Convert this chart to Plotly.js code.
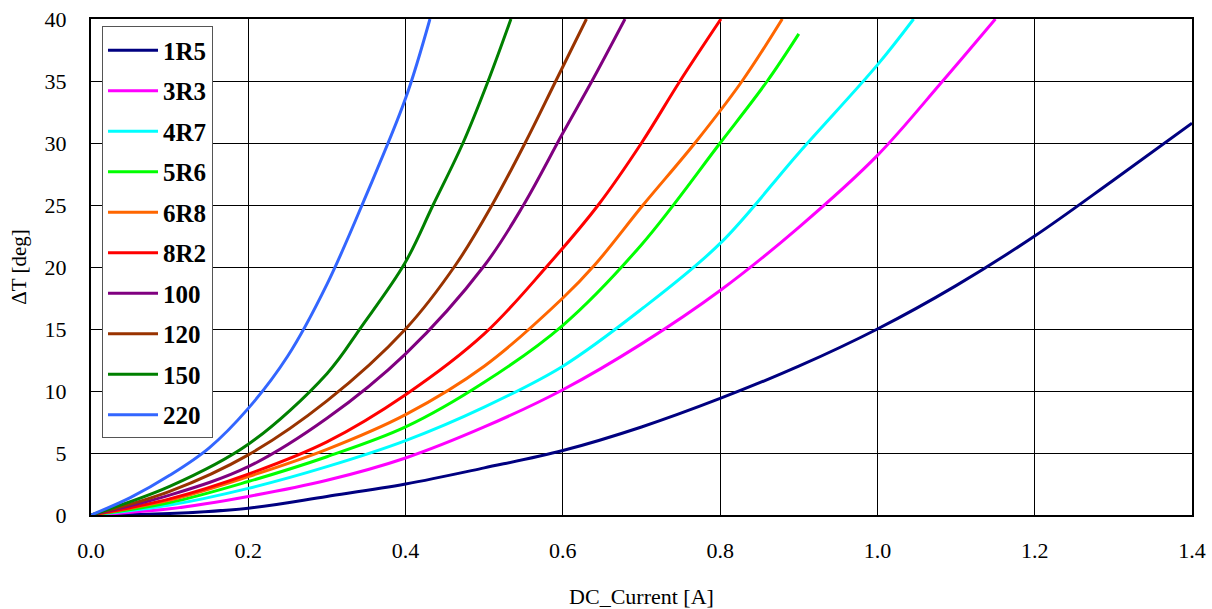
<!DOCTYPE html>
<html>
<head>
<meta charset="utf-8">
<script src="https://cdn.plot.ly/plotly-3.0.1.min.js"></script>
<style>html,body{margin:0;padding:0;background:#fff;}#chart{width:1212px;height:609px;}</style>
</head>
<body>
<div id="chart"></div>
<script>
const seriesNames = ["1R5","3R3","4R7","5R6","6R8","8R2","100","120","150","220"];
const seriesColors = ["#000080","#FF00FF","#00FFFF","#00FF00","#FF6600","#FF0000","#800080","#993300","#008000","#3366FF"];

const x_1R5 = [0,0.1,0.2,0.3,0.4,0.5,0.6,0.7,0.8,0.9,1.0,1.1,1.2,1.3,1.4];
const y_1R5 = [0,0.12,0.55,1.5,2.5,3.8,5.2,7.1,9.4,12.0,15.0,18.5,22.5,27.0,31.6];

const x_3R3 = [0,0.1,0.2,0.3,0.4,0.5,0.6,0.7,0.8,0.9,1.0,1.083,1.15];
const y_3R3 = [0,0.5,1.5,2.8,4.6,7.1,10.1,13.8,18.1,23.2,29.0,35,40];

const x_4R7 = [0,0.1,0.2,0.3,0.4,0.5,0.6,0.7,0.8,0.9,1.0,1.046];
const y_4R7 = [0,0.8,2.15,3.9,6.0,8.7,12.0,16.6,21.9,29.2,36.3,40];

const x_5R6 = [0,0.1,0.2,0.3,0.4,0.5,0.6,0.7,0.8,0.86,0.9];
const y_5R6 = [0,1.0,2.7,4.7,7.1,10.7,15.3,21.8,30,35,38.8];

const x_6R8 = [0,0.1,0.2,0.3,0.4,0.5,0.6,0.641,0.702,0.768,0.828,0.879];
const y_6R8 = [0,1.2,3.1,5.3,8.1,12.0,17.5,20.2,25,30,35,40];

const x_8R2 = [0,0.1,0.2,0.3,0.4,0.5,0.579,0.645,0.7,0.749,0.801];
const y_8R2 = [0,1.3,3.3,5.9,9.7,14.6,20,25,30,35,40];

const x_100 = [0,0.1,0.2,0.3,0.4,0.5,0.55,0.6,0.637,0.679];
const y_100 = [0,1.6,3.9,7.8,13.0,20.1,25,30.8,35,40];

const x_120 = [0,0.1,0.2,0.3,0.4,0.464,0.51,0.552,0.591,0.630];
const y_120 = [0,1.9,4.85,9.2,15.0,20.2,25,30,35,40];

const x_150 = [0,0.1,0.2,0.3,0.344,0.399,0.435,0.473,0.505,0.534];
const y_150 = [0,2.3,5.7,11.4,15.2,20.3,25,30,35,40];

const x_220 = [0,0.05,0.1,0.15,0.2,0.25,0.3,0.35,0.4,0.431];
const y_220 = [0,1.4,3.2,5.4,8.6,12.8,18.6,25.8,33.6,40];

const xs = [x_1R5,x_3R3,x_4R7,x_5R6,x_6R8,x_8R2,x_100,x_120,x_150,x_220];
const ys = [y_1R5,y_3R3,y_4R7,y_5R6,y_6R8,y_8R2,y_100,y_120,y_150,y_220];

const xTickVals = [0,0.2,0.4,0.6,0.8,1.0,1.2,1.4];
const xTickText = ["0.0","0.2","0.4","0.6","0.8","1.0","1.2","1.4"];
const yTickVals = [0,5,10,15,20,25,30,35,40];

const FONT = "Liberation Serif, Times New Roman, serif";

const traces = seriesNames.map((n,i)=>({
  type:'scatter', mode:'lines', name:n, x:xs[i], y:ys[i],
  legendgroup:'g'+i,
  line:{color:seriesColors[i], width:3, shape:'spline', smoothing:1.0}
}));

const layout = {
  width:1212, height:609,
  margin:{l:91, r:20, t:19, b:94},
  paper_bgcolor:'#fff', plot_bgcolor:'#fff',
  font:{family:FONT, color:'#000', size:22},
  showlegend:true,
  legend:{
    x:0.01, y:0.985, xanchor:'left', yanchor:'top',
    bgcolor:'#fff', bordercolor:'#555', borderwidth:1,
    font:{family:FONT, size:25, color:'#000', weight:'bold'},
    itemwidth:50,
    tracegroupgap:5
  },
  xaxis:{
    range:[0,1.4], tickvals:xTickVals, ticktext:xTickText,
    showgrid:true, gridcolor:'#000', gridwidth:1,
    showline:true, linecolor:'#000', linewidth:2, mirror:true,
    zeroline:false, ticks:'', ticklabelstandoff:15,
    tickfont:{family:FONT, size:22, color:'#000'},
    title:{text:'DC_Current [A]', font:{family:FONT, size:22, color:'#000'}, standoff:26}
  },
  yaxis:{
    range:[0,40], tickvals:yTickVals,
    showgrid:true, gridcolor:'#000', gridwidth:1,
    showline:true, linecolor:'#000', linewidth:2, mirror:true,
    zeroline:false, ticks:'', ticklabelstandoff:18,
    tickfont:{family:FONT, size:22, color:'#000'},
    title:{text:'ΔT [deg]', font:{family:FONT, size:21, color:'#000'}, standoff:12}
  }
};

Plotly.newPlot('chart', traces, layout, {displayModeBar:false, staticPlot:true});
</script>
</body>
</html>
